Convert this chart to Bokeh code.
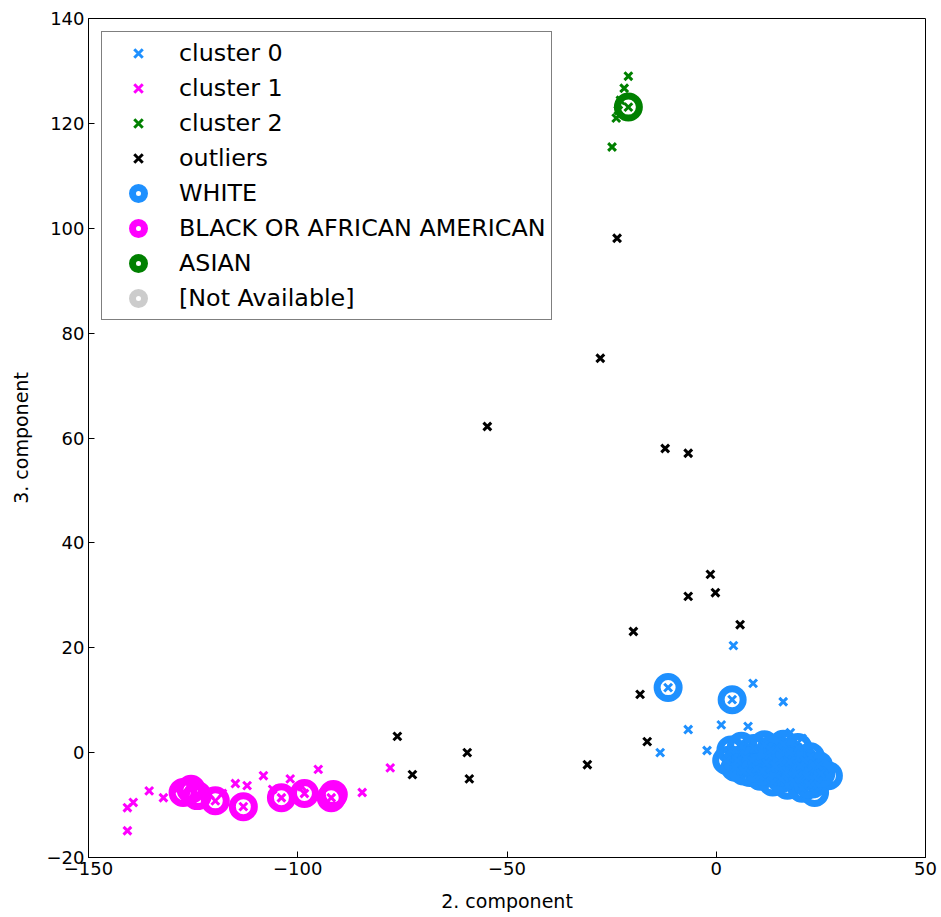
from bokeh.plotting import figure
from bokeh.models import (Legend, LegendItem, FixedTicker,
                          CustomJSTickFormatter, Range1d)
from bokeh.embed import file_html
from bokeh.resources import INLINE

# ---------------- data ----------------
# dense group of WHITE samples (cluster 0) near the origin
blob_x = [2.5, 3.5, 4.5, 6.0, 7.0, 8.0, 9.0, 10.0, 10.5, 11.5, 12.5, 13.0, 13.5,
          14.5, 15.0, 16.0, 16.5, 17.0, 18.0, 18.5, 19.5, 20.0, 20.5, 21.0, 22.0,
          22.5, 23.5, 24.0, 24.5, 26.8, 23.0, 5.0, 6.5, 11.0,
          8.5, 12.0, 14.0, 17.5, 19.0, 21.5, 15.5, 9.5, 20.0, 13.0, 17.5, 22.0, 25.0]
blob_y = [-1.5, 0.5, -2.8, 1.2, -1.0, -3.8, 0.8, -2.0, -4.5, 1.5, -0.5, -3.0, -5.6,
          0.8, -1.8, 1.6, -4.0, -6.2, -0.5, -2.8, 1.0, -5.0, -6.8, -1.5, -3.5,
          -0.8, -7.6, -5.0, -2.5, -4.4, -6.0, -1.5, -3.5, -3.5,
          -1.5, -2.0, -2.5, -1.8, -4.0, -4.5, -5.0, -3.0, -2.5, 0.5, 0.0, -6.0, -4.0]

c0_x = [4.1, 8.8, 16.0, -6.7, 1.2, 7.6, -13.4, -2.2, -11.5, 3.8, 17.7, 20.5] + blob_x
c0_y = [20.4, 13.2, 9.7, 4.4, 5.3, 5.0, 0.0, 0.4, 12.4, 10.1, 3.8, 2.7] + blob_y

c1_x = [-140.7, -140.7, -139.3, -135.5, -132.1, -128.5, -126.6, -125.0, -123.3,
        -121.0, -118.0, -114.9, -112.1, -108.2, -106.0, -101.8, -99.0, -95.1,
        -84.6, -77.9, -127.4, -119.7, -113.0, -103.9, -98.4, -92.0]
c1_y = [-14.9, -10.5, -9.5, -7.3, -8.6, -6.8, -5.7, -6.5, -7.3,
        -8.0, -7.8, -5.9, -6.3, -4.4, -7.0, -5.0, -6.5, -3.2,
        -7.6, -2.9, -7.6, -9.2, -10.3, -8.6, -7.8, -8.6]

c2_x = [-21.0, -22.0, -22.9, -23.4, -23.9, -24.9, -21.0]
c2_y = [129.0, 126.7, 124.4, 122.5, 121.0, 115.5, 123.1]

out_x = [-23.7, -27.7, -54.7, -12.2, -6.7, -1.4, -0.2, -6.7, 5.7, -19.8, -18.2,
         -16.5, -76.2, -72.6, -59.5, -59.0, -30.8]
out_y = [98.1, 75.2, 62.2, 58.0, 57.1, 34.0, 30.5, 29.8, 24.4, 23.1, 11.1,
         2.1, 3.1, -4.2, 0.0, -5.0, -2.3]

white_x = [-11.5, 3.8] + blob_x
white_y = [12.4, 10.1] + blob_y

black_x = [-127.4, -125.5, -124.0, -119.7, -113.0, -103.9, -98.4, -92.0, -91.5]
black_y = [-7.6, -7.0, -8.2, -9.2, -10.3, -8.6, -7.8, -8.6, -8.0]

asian_x = [-21.0]
asian_y = [123.1]

# hidden under the WHITE group in the reference
na_x = [15.0]
na_y = [-1.8]

x_ticks = [-150, -100, -50, 0, 50]
y_ticks = [-20, 0, 20, 40, 60, 80, 100, 120, 140]

# ---------------- figure ----------------
FONT = "DejaVu Sans"
p = figure(width=941, height=917, output_backend="svg", toolbar_location=None,
           x_range=Range1d(-150, 50), y_range=Range1d(-20, 140),
           min_border_left=88, min_border_right=16, min_border_top=18,
           min_border_bottom=60, x_axis_label="2. component",
           y_axis_label="3. component")
p.background_fill_color = "white"
p.border_fill_color = "white"
p.grid.visible = False
p.outline_line_color = "black"
p.outline_line_width = 1

minus_fmt = CustomJSTickFormatter(
    code="return tick < 0 ? '\u2212' + Math.abs(tick) : tick.toString();")

for ax, ticks in ((p.xaxis[0], x_ticks), (p.yaxis[0], y_ticks)):
    ax.ticker = FixedTicker(ticks=ticks)
    ax.formatter = minus_fmt
    ax.major_tick_in = 6
    ax.major_tick_out = 0
    ax.minor_tick_line_color = None
    ax.axis_line_color = "black"
    ax.major_label_text_font = FONT
    ax.major_label_text_font_size = "18px"
    ax.major_label_text_color = "black"
    ax.axis_label_text_font = FONT
    ax.axis_label_text_font_size = "19px"
    ax.axis_label_text_font_style = "normal"
    ax.axis_label_text_color = "black"
    ax.major_label_standoff = 4
    ax.axis_label_standoff = 12

ring = dict(fill_color=None, size=22, line_width=7, marker="circle")
cross = dict(marker="x", size=11, line_width=3)

r_na = p.scatter(na_x, na_y, line_color="#CCCCCC", **ring)
r_white = p.scatter(white_x, white_y, line_color="#1E90FF", **ring)
r_black = p.scatter(black_x, black_y, line_color="#FF00FF", **ring)
r_asian = p.scatter(asian_x, asian_y, line_color="#008000", **ring)

r_c0 = p.scatter(c0_x, c0_y, line_color="#1E90FF", **cross)
r_c1 = p.scatter(c1_x, c1_y, line_color="#FF00FF", **cross)
r_c2 = p.scatter(c2_x, c2_y, line_color="#008000", **cross)
r_out = p.scatter(out_x, out_y, line_color="black", **cross)

legend = Legend(items=[
    LegendItem(label="cluster 0", renderers=[r_c0]),
    LegendItem(label="cluster 1", renderers=[r_c1]),
    LegendItem(label="cluster 2", renderers=[r_c2]),
    LegendItem(label="outliers", renderers=[r_out]),
    LegendItem(label="WHITE", renderers=[r_white]),
    LegendItem(label="BLACK OR AFRICAN AMERICAN", renderers=[r_black]),
    LegendItem(label="ASIAN", renderers=[r_asian]),
    LegendItem(label="[Not Available]", renderers=[r_na]),
], location="top_left")
legend.margin = 13
legend.padding = 6
legend.spacing = 5
legend.glyph_width = 60
legend.glyph_height = 30
legend.label_height = 30
legend.label_standoff = 11
legend.label_text_font = FONT
legend.label_text_font_size = "23.8px"
legend.label_text_color = "black"
legend.border_line_color = "black"
legend.border_line_width = 1
legend.background_fill_color = "white"
legend.background_fill_alpha = 1
p.add_layout(legend)

open("out.html", "w").write(file_html(p, INLINE))
